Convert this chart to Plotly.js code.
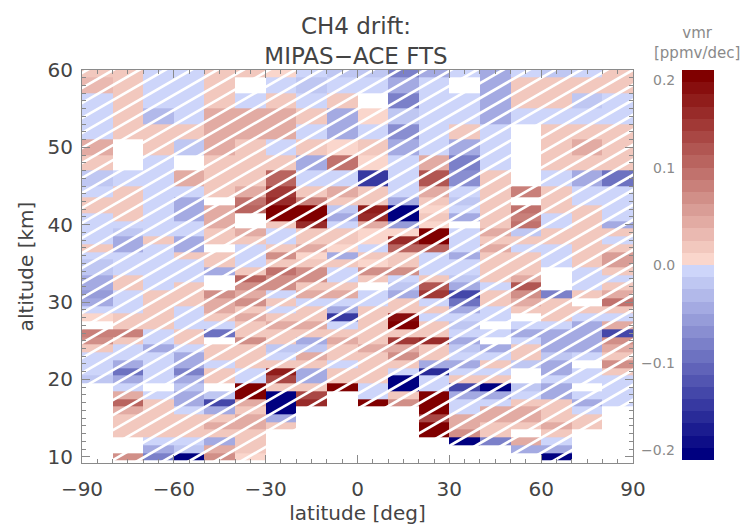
<!DOCTYPE html>
<html>
<head>
<meta charset="utf-8">
<script src="https://cdn.plot.ly/plotly-3.0.1.min.js"></script>
<style>html,body{margin:0;padding:0;background:#fff;}#chart{width:753px;height:526px;}</style>
</head>
<body>
<div id="chart"></div>
<script>
// latitude bin centres [deg]
const latitude = [-85,-75,-65,-55,-45,-35,-25,-15,-5,5,15,25,35,45,55,65,75,85];
// altitude bin centres [km]
const altitude = [10,11,12,13,14,15,16,17,18,19,20,21,22,23,24,25,26,27,28,29,30,31,32,33,34,35,36,37,38,39,40,41,42,43,44,46,48,50,52,54,56,58,60];
// CH4 drift [ppmv/dec], one row per altitude (bottom to top), one value per latitude
const drift = [
/*10*/ [null,0.07,-0.08,-0.19,0.07,0.01,null,null,null,null,null,null,null,null,null,-0.19,null,null],
/*11*/ [null,null,-0.04,-0.02,0.04,0.02,null,null,null,null,null,null,null,null,-0.04,-0.04,null,null],
/*12*/ [null,null,-0.01,-0.01,-0.04,0.02,null,null,null,null,null,null,-0.19,-0.08,0.04,-0.01,null,null],
/*13*/ [null,0.02,0.02,0.02,0.02,0.02,null,null,null,null,null,0.19,0.07,0.02,null,0.02,null,null],
/*14*/ [null,0.02,0.02,0.02,0.04,0.04,0.02,null,null,null,null,0.19,0.04,0.02,0.02,0.04,0.02,null],
/*15*/ [null,0.02,0.02,0.02,0.02,0.04,-0.04,null,null,null,null,0.13,0.04,0.04,0.04,0.02,0.02,null],
/*16*/ [null,0.04,0.02,-0.01,-0.04,0.02,-0.19,null,null,null,null,0.19,-0.01,0.04,0.04,0.02,-0.01,null],
/*17*/ [null,0.11,0.02,-0.04,-0.13,0.04,-0.19,0.16,null,0.19,0.07,0.19,-0.01,-0.01,0.02,0.02,-0.04,-0.01],
/*18*/ [null,0.04,-0.01,-0.04,-0.02,0.19,-0.19,0.13,null,-0.01,0.02,0.19,-0.04,-0.04,-0.01,-0.04,-0.01,-0.01],
/*19*/ [null,-0.01,null,-0.02,null,0.19,0.02,0.02,0.19,-0.01,-0.19,-0.01,-0.13,-0.19,-0.02,-0.04,null,-0.01],
/*20*/ [-0.02,-0.04,-0.01,-0.04,0.02,-0.01,0.13,-0.04,0.02,0.02,-0.19,-0.01,0.02,0.02,null,-0.01,-0.01,-0.01],
/*21*/ [-0.01,-0.1,-0.01,-0.08,0.02,-0.01,0.17,-0.04,0.02,0.02,-0.01,-0.16,-0.01,-0.01,null,-0.04,-0.01,0.02],
/*22*/ [-0.01,-0.04,-0.01,-0.04,-0.01,0.02,0.02,0.02,-0.01,0.02,0.02,-0.04,-0.04,0.02,-0.02,-0.04,null,0.07],
/*23*/ [-0.01,-0.01,-0.01,-0.04,0.02,0.02,-0.01,0.04,0.02,0.02,0.07,0.02,-0.01,-0.01,0.02,-0.02,-0.01,0.02],
/*24*/ [0.02,-0.01,-0.04,-0.01,0.02,0.02,-0.02,-0.02,0.02,0.04,0.04,0.02,-0.02,-0.04,0.02,-0.04,-0.04,0.04],
/*25*/ [0.07,0.02,-0.01,0.02,null,0.07,0.02,-0.04,0.04,0.02,0.14,0.16,-0.04,null,-0.01,-0.04,-0.04,0.07],
/*26*/ [0.08,0.08,-0.01,0.02,-0.09,0.02,0.02,0.02,0.02,0.02,0.02,0.02,-0.01,-0.01,-0.04,-0.04,-0.04,-0.13],
/*27*/ [null,0.02,0.02,-0.01,-0.01,0.02,0.04,0.04,-0.01,0.02,0.19,0.02,-0.02,null,-0.01,-0.01,-0.04,0.04],
/*28*/ [0.01,0.02,0.02,-0.01,0.02,0.04,0.02,0.02,-0.15,0.02,0.18,-0.01,-0.01,-0.01,null,0.02,-0.01,-0.01],
/*29*/ [-0.01,-0.01,0.02,-0.01,0.04,0.02,-0.01,0.02,-0.04,0.02,0.02,0.02,-0.04,-0.01,0.02,0.02,0.02,0.02],
/*30*/ [-0.04,-0.01,0.02,0.02,0.04,0.07,0.02,-0.01,-0.01,-0.01,0.02,-0.01,-0.09,0.02,0.04,0.02,null,0.1],
/*31*/ [-0.06,-0.01,0.02,0.02,0.07,0.04,-0.01,0.04,0.04,-0.01,-0.04,0.15,-0.13,0.02,0.07,-0.08,0.02,0.04],
/*32*/ [-0.04,0.02,-0.01,0.02,null,0.07,0.07,0.02,0.02,null,-0.02,0.12,-0.04,-0.01,0.12,null,-0.01,0.02],
/*33*/ [-0.04,0.02,-0.01,-0.01,null,0.11,0.07,0.07,-0.01,0.02,-0.01,0.02,-0.02,0.02,0.04,null,-0.01,-0.01],
/*34*/ [-0.02,-0.01,-0.01,-0.01,-0.04,0.02,0.1,0.07,-0.01,0.07,0.07,-0.01,-0.01,0.02,0.02,null,-0.01,0.02],
/*35*/ [-0.02,-0.01,-0.01,-0.01,0.02,-0.01,0.02,0.02,0.02,0.01,0.02,-0.01,-0.01,0.02,0.02,-0.01,0.02,0.06],
/*36*/ [-0.01,-0.01,-0.01,0.02,0.02,-0.01,0.07,0.01,-0.04,0.02,0.02,-0.01,-0.04,0.02,0.02,-0.01,0.02,0.06],
/*37*/ [0.02,-0.04,-0.01,-0.04,null,-0.01,0.02,0.04,0.01,-0.01,0.11,0.11,-0.01,0.04,-0.01,-0.01,0.02,0.02],
/*38*/ [-0.01,-0.04,0.02,-0.04,0.02,0.02,-0.01,0.02,0.02,0.01,0.16,0.19,-0.01,0.02,0.02,0.02,0.02,-0.01],
/*39*/ [-0.01,-0.02,-0.01,-0.01,0.02,0.04,-0.01,0.02,0.02,0.01,0.01,0.19,-0.01,0.04,-0.02,0.02,0.02,0.02],
/*40*/ [-0.01,-0.01,-0.01,-0.01,0.04,null,0.02,0.16,-0.01,0.04,-0.05,0.01,null,0.02,0.1,-0.01,0.02,-0.04],
/*41*/ [-0.01,0.02,-0.01,-0.04,0.04,null,0.19,0.19,-0.04,0.16,-0.19,0.02,-0.04,0.02,0.08,-0.01,0.02,-0.01],
/*42*/ [0.02,0.02,-0.01,-0.04,0.04,0.11,0.19,0.2,-0.02,0.17,-0.2,0.01,-0.01,0.02,0.09,0.02,0.02,-0.01],
/*43*/ [0.02,0.02,-0.01,-0.04,null,0.1,0.16,0.08,0.02,0.02,-0.04,0.02,-0.02,0.02,null,0.02,-0.01,-0.01],
/*44*/ [-0.01,0.02,-0.01,-0.01,0.02,0.04,0.15,0.02,0.04,0.02,-0.01,0.04,-0.01,0.02,0.08,0.02,-0.01,-0.01],
/*46*/ [-0.02,-0.01,-0.01,0.04,0.02,0.02,0.11,-0.01,-0.01,-0.15,-0.01,0.12,-0.065,0.02,null,-0.01,-0.04,-0.09],
/*48*/ [0.02,null,-0.01,null,0.02,0.02,0.02,-0.04,0.09,0.01,-0.01,0.04,-0.08,-0.01,null,0.02,0.02,0.02],
/*50*/ [0.04,null,0.02,-0.02,0.04,0.02,-0.01,0.02,0.01,0.02,-0.04,-0.01,-0.04,-0.01,null,0.02,0.04,0.02],
/*52*/ [-0.01,0.02,0.02,0.02,0.04,0.04,0.04,-0.01,-0.04,-0.01,-0.07,-0.01,0.02,-0.01,null,0.02,0.02,0.02],
/*54*/ [-0.01,0.02,-0.035,-0.01,0.04,0.04,0.04,0.02,-0.04,0.01,-0.02,-0.01,-0.01,-0.04,-0.01,-0.01,-0.01,-0.01],
/*56*/ [-0.01,0.02,-0.01,-0.01,0.02,-0.01,0.02,-0.01,0.02,null,-0.08,-0.01,-0.01,-0.04,0.02,0.02,-0.02,-0.01],
/*58*/ [0.03,0.02,-0.01,-0.01,0.02,null,-0.01,-0.02,-0.01,-0.01,-0.04,-0.01,null,-0.04,0.02,0.02,0.02,0.02],
/*60*/ [0.02,0.02,-0.01,-0.01,0.02,0.02,0.01,-0.01,-0.02,-0.02,-0.08,-0.04,-0.01,-0.04,-0.01,-0.02,-0.01,0.02]
];
const cbarTicks = [-0.2,-0.1,0.0,0.1,0.2];
const cbarLabels = ['\u22120.2','\u22120.1','0.0','0.1','0.2'];

// ---- discrete blue-white-red colour scale, 32 levels ----
const nLev = 32;
function mix(a,b,t){return 'rgb('+a.map((v,i)=>Math.round(v+(b[i]-v)*t)).join(',')+')';}
const navy=[0,0,128], lblue=[205,213,250], lred=[250,214,204], dred=[128,0,0];
const cs = [];
for (let i=0;i<nLev;i++){
  let c;
  if (i<16) c = mix(navy,lblue,i/15); else c = mix(lred,dred,(i-16)/15);
  cs.push([i/nLev,c]); cs.push([(i+1)/nLev,c]);
}

// ---- geometry of plot area (pixels) ----
const W=753,H=526, mL=82, mR=120, mT=70, mB=63;
const pw=W-mL-mR, ph=H-mT-mB;
const xr=[-90,90], yr=[9.2,60];

// hatching: white lines at 30 deg, 15 px vertical spacing
const slopePx = Math.tan(30*Math.PI/180);
const kmPerPx = (yr[1]-yr[0])/ph, degPerPx=(xr[1]-xr[0])/pw;
const slopeData = slopePx*kmPerPx/degPerPx;
const spacing = 15*kmPerPx;
const hx=[],hy=[];
for (let k=-30;k<=30;k++){
  const y0 = yr[0]+k*spacing;
  hx.push(xr[0]-5, xr[1]+5, null);
  hy.push(y0-5*slopeData, y0+(xr[1]-xr[0]+5)*slopeData, null);
}

const heat = {
  type:'heatmap', x:latitude, y:altitude, z:drift,
  zmin:-0.2, zmax:0.2, colorscale:cs, zsmooth:false, hoverongaps:false,
  colorbar:{
    thickness:32, thicknessmode:'pixels', len:(ph-3)/ph, lenmode:'fraction',
    x:(681.7-mL)/pw, xanchor:'left', xpad:0, y:1, yanchor:'top', ypad:0,
    outlinewidth:0, showticklabels:false, ticks:''
  }
};
const hatch = {
  type:'scatter', mode:'lines', x:hx, y:hy, line:{color:'#ffffff',width:2.7},
  hoverinfo:'skip', showlegend:false
};

const grey='#8a8a8a', txt='#444444';
const annotations = cbarTicks.map((v,i)=>{
  const yPx = 70 + (0.2-v)/0.4*(ph-3);
  let ya='middle';
  if (v===0.2) ya='top';
  if (v===-0.2) ya='bottom';
  return {text:cbarLabels[i], xref:'paper', yref:'paper', x:(677-mL)/pw, xanchor:'right',
    y:(mT+ph-yPx)/ph, yanchor:ya, showarrow:false, font:{family:'DejaVu Sans',size:14,color:grey}};
});
annotations.push({text:'vmr<br>[ppmv/dec]', xref:'paper', yref:'paper', x:(697-mL)/pw, xanchor:'center',
  y:(mT+ph-43)/ph, yanchor:'middle', showarrow:false, font:{family:'DejaVu Sans',size:15,color:grey}});

const layout = {
  width:W, height:H, margin:{l:mL,r:mR,t:mT,b:mB}, paper_bgcolor:'#fff', plot_bgcolor:'#fff',
  title:{text:'CH4 drift:<br>MIPAS\u2212ACE FTS', x:(356)/W, xanchor:'center', y:1-34/H, yanchor:'middle',
    font:{family:'DejaVu Sans',size:23,color:txt}},
  font:{family:'DejaVu Sans',color:txt},
  xaxis:{range:xr, tickvals:[-90,-60,-30,0,30,60,90], ticktext:['\u221290','\u221260','\u221230','0','30','60','90'],
    ticks:'inside', ticklen:8, tickcolor:grey, showline:true, linecolor:grey, mirror:'ticks', showgrid:false, zeroline:false,
    minor:{dtick:5, tick0:0, ticks:'inside', ticklen:4, tickcolor:grey, showgrid:false},
    tickfont:{size:20,color:txt}, ticklabelstandoff:8,
    title:{text:'latitude [deg]', font:{size:20,color:txt}, standoff:4}},
  yaxis:{range:yr, tickvals:[10,20,30,40,50,60],
    ticks:'inside', ticklen:8, tickcolor:grey, showline:true, linecolor:grey, mirror:'ticks', showgrid:false, zeroline:false,
    minor:{dtick:1, tick0:0, ticks:'inside', ticklen:4, tickcolor:grey, showgrid:false},
    tickfont:{size:20,color:txt}, ticklabelstandoff:4,
    title:{text:'altitude [km]', font:{size:20,color:txt}, standoff:8}},
  annotations:annotations,
  showlegend:false
};
Plotly.newPlot('chart',[heat,hatch],layout,{displayModeBar:false,staticPlot:true});
</script>
</body>
</html>
